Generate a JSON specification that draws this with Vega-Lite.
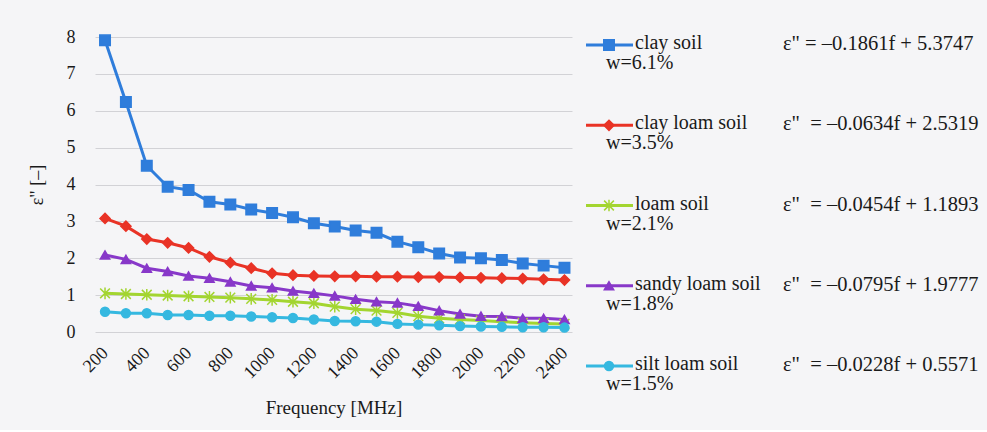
{
  "$schema": "https://vega.github.io/schema/vega-lite/v6.json",
  "background": "#f5f5f7",
  "padding": {"left": 28, "top": 28, "right": 0, "bottom": 12},
  "config": {
    "font": "Times New Roman, Liberation Serif, DejaVu Serif, serif",
    "view": {"stroke": null},
    "concat": {"spacing": 11},
    "axis": {"labelFont": "Times New Roman, Liberation Serif, DejaVu Serif, serif", "titleFont": "Times New Roman, Liberation Serif, DejaVu Serif, serif"},
    "text": {"font": "Times New Roman, Liberation Serif, DejaVu Serif, serif", "color": "#1a1a1a"}
  },
  "resolve": {"scale": {"x": "independent", "y": "independent"}},
  "datasets": {
    "points": [
      {"f":200,"s":"clay soil","e":7.91},{"f":300,"s":"clay soil","e":6.24},{"f":400,"s":"clay soil","e":4.51},{"f":500,"s":"clay soil","e":3.94},{"f":600,"s":"clay soil","e":3.85},{"f":700,"s":"clay soil","e":3.53},{"f":800,"s":"clay soil","e":3.46},{"f":900,"s":"clay soil","e":3.32},{"f":1000,"s":"clay soil","e":3.23},{"f":1100,"s":"clay soil","e":3.11},{"f":1200,"s":"clay soil","e":2.95},{"f":1300,"s":"clay soil","e":2.86},{"f":1400,"s":"clay soil","e":2.75},{"f":1500,"s":"clay soil","e":2.69},{"f":1600,"s":"clay soil","e":2.45},{"f":1700,"s":"clay soil","e":2.30},{"f":1800,"s":"clay soil","e":2.13},{"f":1900,"s":"clay soil","e":2.02},{"f":2000,"s":"clay soil","e":2.00},{"f":2100,"s":"clay soil","e":1.95},{"f":2200,"s":"clay soil","e":1.86},{"f":2300,"s":"clay soil","e":1.80},{"f":2400,"s":"clay soil","e":1.74},
      {"f":200,"s":"clay loam soil","e":3.08},{"f":300,"s":"clay loam soil","e":2.87},{"f":400,"s":"clay loam soil","e":2.52},{"f":500,"s":"clay loam soil","e":2.42},{"f":600,"s":"clay loam soil","e":2.28},{"f":700,"s":"clay loam soil","e":2.04},{"f":800,"s":"clay loam soil","e":1.88},{"f":900,"s":"clay loam soil","e":1.73},{"f":1000,"s":"clay loam soil","e":1.59},{"f":1100,"s":"clay loam soil","e":1.54},{"f":1200,"s":"clay loam soil","e":1.52},{"f":1300,"s":"clay loam soil","e":1.51},{"f":1400,"s":"clay loam soil","e":1.51},{"f":1500,"s":"clay loam soil","e":1.50},{"f":1600,"s":"clay loam soil","e":1.50},{"f":1700,"s":"clay loam soil","e":1.49},{"f":1800,"s":"clay loam soil","e":1.49},{"f":1900,"s":"clay loam soil","e":1.48},{"f":2000,"s":"clay loam soil","e":1.47},{"f":2100,"s":"clay loam soil","e":1.46},{"f":2200,"s":"clay loam soil","e":1.45},{"f":2300,"s":"clay loam soil","e":1.43},{"f":2400,"s":"clay loam soil","e":1.41},
      {"f":200,"s":"loam soil","e":1.05},{"f":300,"s":"loam soil","e":1.03},{"f":400,"s":"loam soil","e":1.01},{"f":500,"s":"loam soil","e":0.99},{"f":600,"s":"loam soil","e":0.97},{"f":700,"s":"loam soil","e":0.95},{"f":800,"s":"loam soil","e":0.93},{"f":900,"s":"loam soil","e":0.90},{"f":1000,"s":"loam soil","e":0.87},{"f":1100,"s":"loam soil","e":0.82},{"f":1200,"s":"loam soil","e":0.78},{"f":1300,"s":"loam soil","e":0.69},{"f":1400,"s":"loam soil","e":0.62},{"f":1500,"s":"loam soil","e":0.58},{"f":1600,"s":"loam soil","e":0.52},{"f":1700,"s":"loam soil","e":0.43},{"f":1800,"s":"loam soil","e":0.37},{"f":1900,"s":"loam soil","e":0.34},{"f":2000,"s":"loam soil","e":0.31},{"f":2100,"s":"loam soil","e":0.28},{"f":2200,"s":"loam soil","e":0.25},{"f":2300,"s":"loam soil","e":0.23},{"f":2400,"s":"loam soil","e":0.22},
      {"f":200,"s":"sandy loam soil","e":2.09},{"f":300,"s":"sandy loam soil","e":1.97},{"f":400,"s":"sandy loam soil","e":1.73},{"f":500,"s":"sandy loam soil","e":1.64},{"f":600,"s":"sandy loam soil","e":1.52},{"f":700,"s":"sandy loam soil","e":1.46},{"f":800,"s":"sandy loam soil","e":1.36},{"f":900,"s":"sandy loam soil","e":1.25},{"f":1000,"s":"sandy loam soil","e":1.20},{"f":1100,"s":"sandy loam soil","e":1.11},{"f":1200,"s":"sandy loam soil","e":1.05},{"f":1300,"s":"sandy loam soil","e":0.98},{"f":1400,"s":"sandy loam soil","e":0.89},{"f":1500,"s":"sandy loam soil","e":0.82},{"f":1600,"s":"sandy loam soil","e":0.79},{"f":1700,"s":"sandy loam soil","e":0.70},{"f":1800,"s":"sandy loam soil","e":0.58},{"f":1900,"s":"sandy loam soil","e":0.49},{"f":2000,"s":"sandy loam soil","e":0.43},{"f":2100,"s":"sandy loam soil","e":0.42},{"f":2200,"s":"sandy loam soil","e":0.37},{"f":2300,"s":"sandy loam soil","e":0.37},{"f":2400,"s":"sandy loam soil","e":0.34},
      {"f":200,"s":"silt loam soil","e":0.55},{"f":300,"s":"silt loam soil","e":0.51},{"f":400,"s":"silt loam soil","e":0.51},{"f":500,"s":"silt loam soil","e":0.46},{"f":600,"s":"silt loam soil","e":0.46},{"f":700,"s":"silt loam soil","e":0.44},{"f":800,"s":"silt loam soil","e":0.44},{"f":900,"s":"silt loam soil","e":0.42},{"f":1000,"s":"silt loam soil","e":0.40},{"f":1100,"s":"silt loam soil","e":0.38},{"f":1200,"s":"silt loam soil","e":0.34},{"f":1300,"s":"silt loam soil","e":0.30},{"f":1400,"s":"silt loam soil","e":0.29},{"f":1500,"s":"silt loam soil","e":0.28},{"f":1600,"s":"silt loam soil","e":0.22},{"f":1700,"s":"silt loam soil","e":0.20},{"f":1800,"s":"silt loam soil","e":0.18},{"f":1900,"s":"silt loam soil","e":0.16},{"f":2000,"s":"silt loam soil","e":0.15},{"f":2100,"s":"silt loam soil","e":0.14},{"f":2200,"s":"silt loam soil","e":0.13},{"f":2300,"s":"silt loam soil","e":0.13},{"f":2400,"s":"silt loam soil","e":0.12}
    ],
    "legend": [
      {"s":"clay soil","w":"w=6.1%","eq":"ε\" = –0.1861f + 5.3747"},
      {"s":"clay loam soil","w":"w=3.5%","eq":"ε\"\u00a0 = –0.0634f + 2.5319"},
      {"s":"loam soil","w":"w=2.1%","eq":"ε\"\u00a0 = –0.0454f + 1.1893"},
      {"s":"sandy loam soil","w":"w=1.8%","eq":"ε\"\u00a0 = –0.0795f + 1.9777"},
      {"s":"silt loam soil","w":"w=1.5%","eq":"ε\"\u00a0 = –0.0228f + 0.5571"}
    ]
  },
  "hconcat": [
    {
      "width": 477,
      "height": 295,
      "data": {"name": "points"},
      "encoding": {
        "x": {"field": "f", "type": "quantitative",
          "scale": {"domain": [152, 2436], "nice": false, "zero": false},
          "axis": {"values": [200,400,600,800,1000,1200,1400,1600,1800,2000,2200,2400], "format": "d",
            "labelAngle": -45, "labelAlign": "right", "labelBaseline": "middle",
            "labelFontSize": 18, "labelColor": "#1a1a1a", "domain": false, "ticks": false, "grid": false,
            "labelPadding": 18, "title": "Frequency [MHz]", "titleFontSize": 19, "titleFontWeight": "normal",
            "titleColor": "#1a1a1a", "titlePadding": 17}},
        "y": {"field": "e", "type": "quantitative",
          "scale": {"domain": [0, 8], "nice": false},
          "axis": {"values": [0,1,2,3,4,5,6,7,8], "domain": false, "ticks": false,
            "gridColor": "#d2d2d6", "gridWidth": 1, "labelFontSize": 18, "labelColor": "#1a1a1a", "labelPadding": 20,
            "title": "ε\" [–]", "titleFontSize": 18, "titleFontWeight": "normal", "titleColor": "#1a1a1a", "titlePadding": 20}},
        "color": {"field": "s", "type": "nominal",
          "scale": {"domain": ["clay soil","clay loam soil","loam soil","sandy loam soil","silt loam soil"],
            "range": ["#2f7ddb","#e93326","#a3d530","#8838c9","#35b8e0"]},
          "legend": null}
      },
      "layer": [
        {"mark": {"type": "line", "strokeWidth": 3}},
        {"mark": {"type": "point", "filled": true, "opacity": 1, "strokeWidth": 1.5},
          "encoding": {
            "shape": {"field": "s", "type": "nominal",
              "scale": {"domain": ["clay soil","clay loam soil","loam soil","sandy loam soil","silt loam soil"],
                "range": ["square","diamond","M-1,-1L1,1M-1,1L1,-1M0,-1.2L0,1.2","triangle-up","circle"]},
              "legend": null},
            "stroke": {"field": "s", "type": "nominal",
              "scale": {"domain": ["clay soil","clay loam soil","loam soil","sandy loam soil","silt loam soil"],
                "range": ["#2f7ddb","#e93326","#a3d530","#8838c9","#35b8e0"]},
              "legend": null},
            "size": {"field": "s", "type": "nominal",
              "scale": {"domain": ["clay soil","clay loam soil","loam soil","sandy loam soil","silt loam soil"],
                "range": [110, 80, 80, 100, 90]},
              "legend": null}
          }}
      ]
    },
    {
      "width": 404,
      "height": 337,
      "data": {"name": "legend"},
      "encoding": {
        "y": {"field": "s", "type": "nominal",
          "scale": {"type": "point", "domain": ["clay soil","clay loam soil","loam soil","sandy loam soil","silt loam soil"], "padding": 0.1},
          "axis": null}
      },
      "layer": [
        {"mark": {"type": "rule", "strokeWidth": 3},
          "encoding": {
            "x": {"datum": 2, "type": "quantitative", "scale": {"domain": [0, 404], "nice": false, "zero": false}, "axis": null},
            "x2": {"datum": 49},
            "color": {"field": "s", "type": "nominal", "legend": null}
          }},
        {"mark": {"type": "point", "filled": true, "opacity": 1, "strokeWidth": 1.5},
          "encoding": {
            "x": {"datum": 25, "type": "quantitative"},
            "color": {"field": "s", "type": "nominal", "legend": null},
            "shape": {"field": "s", "type": "nominal", "legend": null},
            "stroke": {"field": "s", "type": "nominal", "legend": null},
            "size": {"field": "s", "type": "nominal", "legend": null}
          }},
        {"mark": {"type": "text", "align": "left", "baseline": "middle", "fontSize": 20, "dy": -2, "color": "#1a1a1a"},
          "encoding": {"x": {"datum": 51, "type": "quantitative"}, "text": {"field": "s"}}},
        {"mark": {"type": "text", "align": "left", "baseline": "middle", "fontSize": 20, "dy": 18, "color": "#1a1a1a"},
          "encoding": {"x": {"datum": 22, "type": "quantitative"}, "text": {"field": "w"}}},
        {"mark": {"type": "text", "align": "left", "baseline": "middle", "fontSize": 20.5, "dy": -1, "color": "#1a1a1a"},
          "encoding": {"x": {"datum": 199, "type": "quantitative"}, "text": {"field": "eq"}}}
      ]
    }
  ]
}
